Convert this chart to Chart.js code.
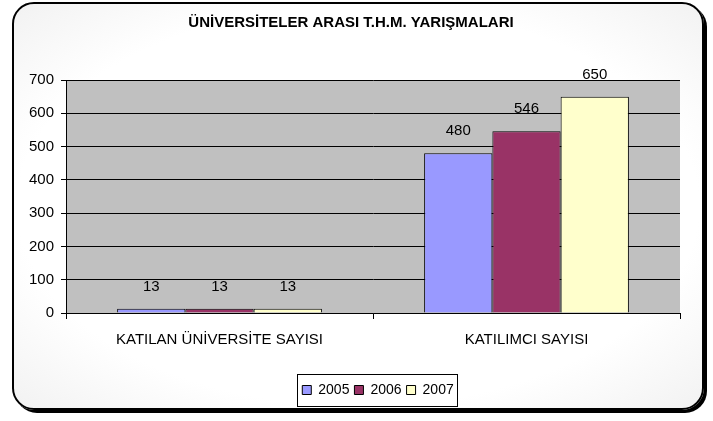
<!DOCTYPE html>
<html>
<head>
<meta charset="utf-8">
<script src="https://cdn.jsdelivr.net/npm/chart.js@4"></script>
<style>
  html, body { margin: 0; padding: 0; background: #fff; }
  #wrap { position: relative; width: 713px; height: 421px; }
  #frame {
    position: absolute; left: 12px; top: 2px; width: 688px; height: 404px;
    border: 2px solid #000; border-radius: 22px;
    box-shadow: 3px 3px 0 #000;
    background: radial-gradient(ellipse at center, #fff 70%, #f2f2f2 100%);
  }
  canvas { position: absolute; left: 0; top: 0; }
</style>
</head>
<body>
<div id="wrap">
  <div id="frame"></div>
  <canvas id="chart" width="713" height="421"></canvas>
</div>
<script>
const categories = ['KATILAN ÜNİVERSİTE SAYISI', 'KATILIMCI SAYISI'];
const years = ['2005', '2006', '2007'];
const values2005 = [13, 480];
const values2006 = [13, 546];
const values2007 = [13, 650];
const yTicks = [0, 100, 200, 300, 400, 500, 600, 700];

const FONT = '"Liberation Sans", Arial, sans-serif';

// gray plot area
const plotBg = {
  id: 'plotBg',
  beforeDraw(chart) {
    const { ctx, chartArea: a } = chart;
    ctx.save();
    ctx.fillStyle = '#c0c0c0';
    ctx.fillRect(a.left, a.top, a.right - a.left, a.bottom - a.top);
    ctx.restore();
  }
};

// legend sits a bit right of centre in the original
const LEGEND_SHIFT = 27;
const LEGEND_PAD = 5;

const extras = {
  id: 'extras',
  afterLayout(chart) {
    chart.legend.left += LEGEND_SHIFT;
    chart.legend.right += LEGEND_SHIFT;
  },
  afterDatasetsDraw(chart) {
    const ctx = chart.ctx;
    ctx.save();
    ctx.font = '15px ' + FONT;
    ctx.fillStyle = '#000';
    ctx.textAlign = 'center';
    ctx.textBaseline = 'middle';
    chart.data.datasets.forEach((ds, i) => {
      chart.getDatasetMeta(i).data.forEach((bar, j) => {
        ctx.fillText(ds.data[j], bar.x, bar.y - 22);
      });
    });
    ctx.restore();
  },
  afterDraw(chart) {
    const lg = chart.legend;
    const boxes = lg.legendHitBoxes;
    if (!boxes || !boxes.length) return;
    const ctx = chart.ctx;
    const total = boxes.reduce((s, b) => s + b.width, 0) + LEGEND_PAD * (boxes.length - 1);
    const cx = (lg.left + lg.right) / 2;
    const cy = boxes[0].top + boxes[0].height / 2;
    const l = cx - total / 2 - 5;
    const w = total + 9;
    const h = 32;
    ctx.save();
    ctx.strokeStyle = '#000';
    ctx.lineWidth = 1;
    ctx.strokeRect(Math.round(l) + 0.5, Math.round(cy - h / 2) + 0.5, Math.round(w), h);
    ctx.restore();
  }
};

new Chart(document.getElementById('chart'), {
  type: 'bar',
  data: {
    labels: categories,
    datasets: [
      { label: years[0], data: values2005, backgroundColor: '#9999ff' },
      { label: years[1], data: values2006, backgroundColor: '#993366' },
      { label: years[2], data: values2007, backgroundColor: '#ffffcc' }
    ].map(d => Object.assign(d, {
      borderColor: '#000', borderWidth: 1,
      barPercentage: 1, categoryPercentage: 0.667
    }))
  },
  options: {
    responsive: false,
    animation: false,
    layout: { padding: { left: 22, right: 33, top: 10, bottom: 14 } },
    plugins: {
      title: {
        display: true,
        text: 'ÜNİVERSİTELER ARASI T.H.M. YARIŞMALARI',
        color: '#000',
        font: { family: FONT, size: 15, weight: 'bold' },
        padding: { top: 4, bottom: 48 }
      },
      legend: {
        position: 'bottom',
        labels: {
          color: '#000',
          font: { family: FONT, size: 14 },
          boxWidth: 9, boxHeight: 9,
          padding: LEGEND_PAD
        }
      },
      tooltip: { enabled: false }
    },
    scales: {
      x: {
        afterFit(axis) { axis.height += 17; },
        grid: { drawOnChartArea: false, offset: true, color: '#000', tickLength: 6 },
        border: { color: '#000' },
        ticks: { color: '#000', font: { family: FONT, size: 15 }, padding: 12 }
      },
      y: {
        min: 0, max: 700,
        afterBuildTicks(axis) { axis.ticks = yTicks.map(v => ({ value: v })); },
        grid: { color: '#000', tickLength: 5 },
        border: { color: '#000' },
        ticks: { color: '#000', font: { family: FONT, size: 15 }, padding: 7 }
      }
    }
  },
  plugins: [plotBg, extras]
});
</script>
</body>
</html>
